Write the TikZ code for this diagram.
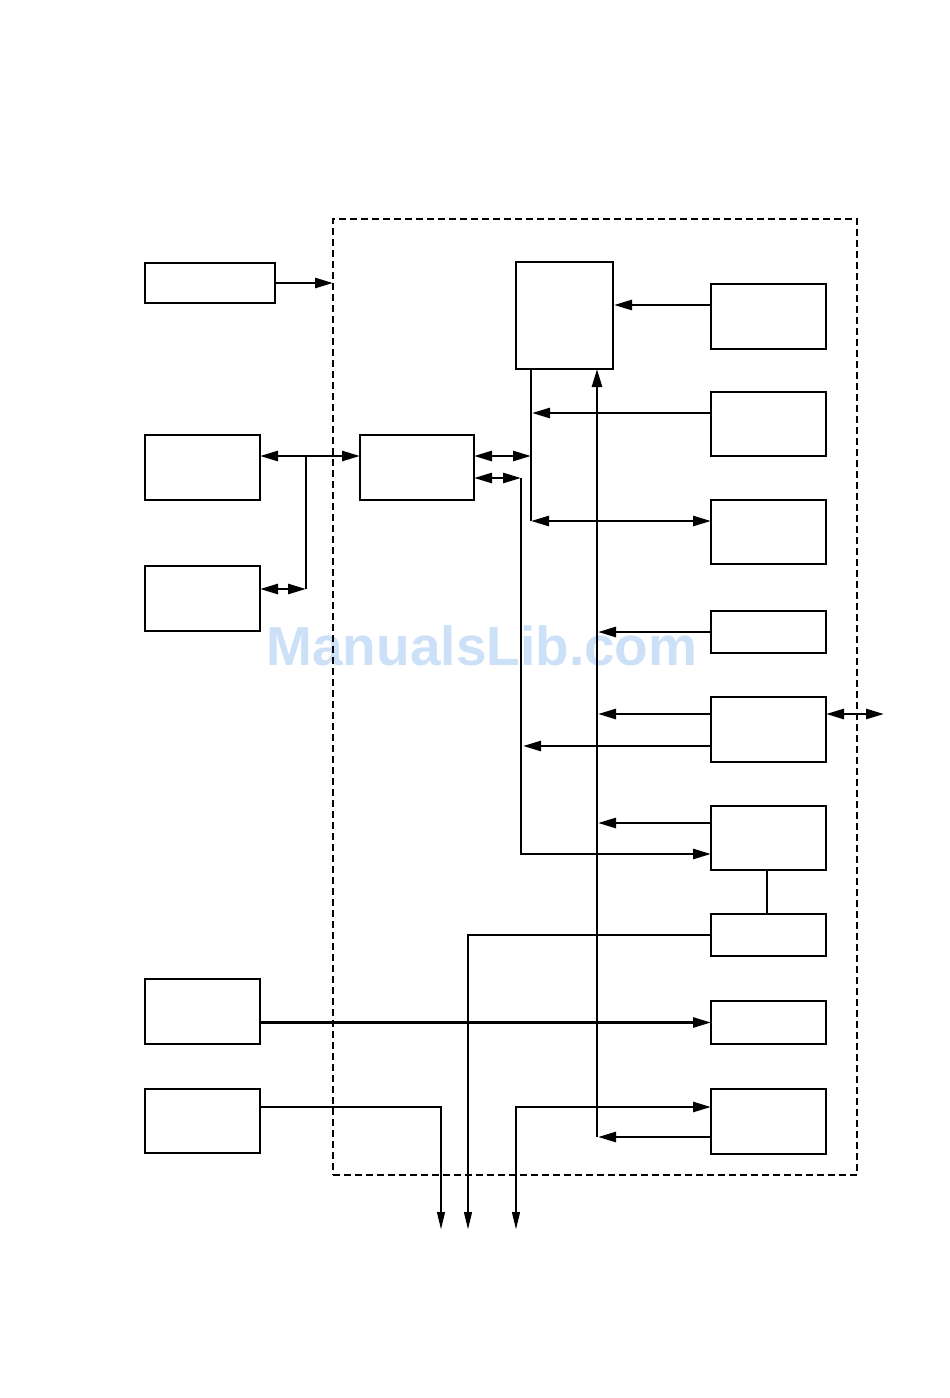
\documentclass[tikz,border=0pt]{standalone}
\usepackage{fontspec}
\newfontfamily\wmfont{Liberation Sans}
\usetikzlibrary{arrows.meta,calc}
\definecolor{wmblue}{HTML}{CCE0F8}
\tikzset{
  box/.style={draw, line width=1.8pt, inner sep=0pt, outer sep=0pt, minimum width=115pt},
  frame/.style={draw, dashed, dash pattern=on 7pt off 4pt, line width=1.4pt, inner sep=0pt, outer sep=0pt},
  conn/.style={line width=2.6pt, arrows={-Triangle[length=18pt,width=10pt]}},
  dconn/.style={line width=2.6pt, arrows={Triangle[length=18pt,width=10pt]-Triangle[length=18pt,width=10pt]}},
  plain/.style={line width=2.6pt},
  down/.style={line width=2.6pt, arrows={-Triangle[length=18pt,width=7.5pt]}},
  wm/.style={text=wmblue, font=\wmfont\bfseries\fontsize{55}{60}\selectfont, inner sep=0pt}
}
\begin{document}
\begin{tikzpicture}[x=1pt,y=-1pt]
\useasboundingbox (0,0) rectangle (950,1398);
% watermark
\node[wm] (wmark) at (482,646) {ManualsLib.com};
% frame
\node[frame, minimum width=524pt, minimum height=956pt] (F) at (595,697) {};
% left boxes
\node[box, minimum width=130pt, minimum height=40pt] (L1) at (210,283) {};
\node[box, minimum height=65pt] (L2) at (202.5,467.5) {};
\node[box, minimum height=65pt] (L3) at (202.5,598.5) {};
\node[box, minimum height=65pt] (L4) at (202.5,1011.5) {};
\node[box, minimum height=64pt] (L5) at (202.5,1121) {};
% middle boxes
\node[box, minimum width=114pt, minimum height=65pt] (M) at (417,467.5) {};
\node[box, minimum width=97pt, minimum height=107pt] (C) at (564.5,315.5) {};
% right boxes
\node[box, minimum height=65pt] (R1) at (768.5,316.5) {};
\node[box, minimum height=64pt] (R2) at (768.5,424) {};
\node[box, minimum height=64pt] (R3) at (768.5,532) {};
\node[box, minimum height=42pt] (R4) at (768.5,632) {};
\node[box, minimum height=65pt] (R5) at (768.5,729.5) {};
\node[box, minimum height=64pt] (R6) at (768.5,838) {};
\node[box, minimum height=42pt] (R7) at (768.5,935) {};
\node[box, minimum height=43pt] (R8) at (768.5,1022.5) {};
\node[box, minimum height=65pt] (R9) at (768.5,1121.5) {};
% coordinates
\coordinate (j1) at (306,456);
\coordinate (j2) at (306,589);
\coordinate (b1) at (531,456);
\coordinate (b2) at (531,521);
\coordinate (b3) at (532,413);
\coordinate (d1) at (521,478);
\coordinate (d2) at (521,854);
\coordinate (d3) at (523,746);
\coordinate (c1) at (614,305);
\coordinate (v1) at (597,1137);
\coordinate (v2) at (598,714);
\coordinate (v3) at (598,823);
\coordinate (ext) at (884,714);
\coordinate (o1) at (441,1230);
\coordinate (o2) at (468,1230);
\coordinate (o3) at (516,1230);
\coordinate (k1) at (441,1107);
\coordinate (k3) at (516,1107);
% connectors left
\draw[conn] (L1.east) -- (L1.east -| F.west);
\draw[dconn] (L2.east |- j1) -- (M.west |- j1);
\draw[plain] (j1) -- (j2);
\draw[dconn] (L3.east |- j2) -- (j2);
% CPU bus
\draw[conn] (R1.west |- c1) -- (c1);
\draw[plain] (b1 |- C.south) -- (b2);
\draw[dconn] (M.east |- b1) -- (b1);
\draw[conn] (R2.west |- b3) -- (b3);
\draw[dconn] (b2) -- (R3.west |- b2);
% second bus from M
\draw[dconn] (M.east |- d1) -- (d1);
\draw[conn] (d1) -- (d2) -- (R6.west |- d2);
% vertical line x=597
\draw[conn] (v1) -- (v1 |- C.south);
\draw[conn] (R4.west) -- (R4.west -| v2);
\draw[conn] (R5.west |- v2) -- (v2);
\draw[conn] (R5.west |- d3) -- (d3);
\draw[conn] (R6.west |- v3) -- (v3);
\draw[conn] (R9.west |- v1) -- ($(v1)+(1,0)$);
\draw[dconn] (R5.east |- ext) -- (ext);
% R6 - R7
\draw[plain] (R6.south -| 767,0) -- (R7.north -| 767,0);
% bottom outputs
\draw[down] (R7.west) -- (R7.west -| o2) -- (o2);
\draw[conn] (L4.east |- R8.west) -- (R8.west);
\draw[down] (L5.east |- k1) -- (k1) -- (o1);
\draw[line width=2.6pt, arrows={Triangle[length=18pt,width=7.5pt]-Triangle[length=18pt,width=10pt]}] (o3) -- (k3) -- (R9.west |- k3);
\end{tikzpicture}
\end{document}
